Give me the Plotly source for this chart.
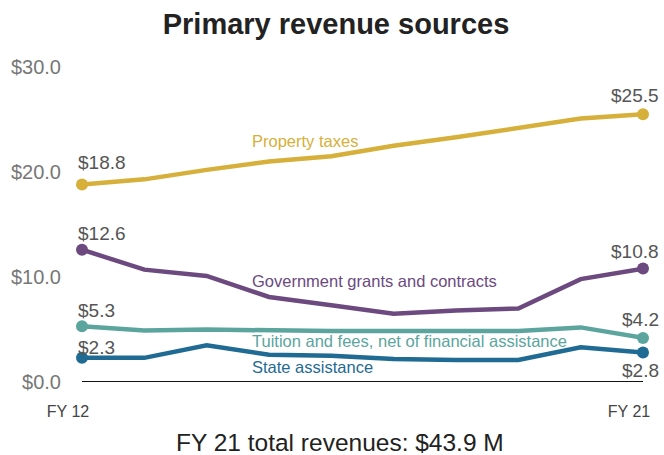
import plotly.graph_objects as go

years = ["FY 12", "FY 13", "FY 14", "FY 15", "FY 16", "FY 17", "FY 18", "FY 19", "FY 20", "FY 21"]
property_taxes = [18.8, 19.3, 20.2, 21.0, 21.5, 22.5, 23.3, 24.2, 25.1, 25.5]
gov_grants = [12.6, 10.7, 10.1, 8.1, 7.3, 6.5, 6.8, 7.0, 9.8, 10.8]
tuition = [5.3, 4.9, 5.0, 4.9, 4.85, 4.85, 4.9, 4.85, 5.2, 4.2]
state = [2.3, 2.3, 3.5, 2.6, 2.5, 2.2, 2.1, 2.1, 3.3, 2.8]

series_names = ["Property taxes", "Government grants and contracts",
                "Tuition and fees, net of financial assistance", "State assistance"]
series_values = [property_taxes, gov_grants, tuition, state]
series_colors = ["#d6b03a", "#6c4a7f", "#5ba59e", "#1f6b93"]
label_y = [23.0, 9.6, 3.9, 1.4]

y_ticks = [0, 10, 20, 30]
y_tick_labels = ["$0.0", "$10.0", "$20.0", "$30.0"]
x_tick_labels = ["FY 12", "FY 21"]

FONT = "Liberation Sans, Arial, sans-serif"
xs = list(range(len(years)))

fig = go.Figure()
for name, vals, col in zip(series_names, series_values, series_colors):
    fig.add_trace(go.Scatter(
        x=xs, y=vals, mode="lines", name=name,
        line=dict(color=col, width=4.5), cliponaxis=False, hoverinfo="skip"))
    fig.add_trace(go.Scatter(
        x=[xs[0], xs[-1]], y=[vals[0], vals[-1]], mode="markers",
        marker=dict(color=col, size=12), cliponaxis=False, hoverinfo="skip"))

# zero line
fig.add_trace(go.Scatter(x=[xs[0], xs[-1]], y=[0, 0], mode="lines",
                         line=dict(color="#111111", width=2), cliponaxis=False,
                         hoverinfo="skip"))

annotations = []
# endpoint value labels
start_shifts = [22, 16, 16, 10]
end_shifts = [19, 17, 18, -18]
for vals, s0, s1 in zip(series_values, start_shifts, end_shifts):
    annotations.append(dict(x=xs[0], y=vals[0], text=f"${vals[0]:.1f}", showarrow=False,
                            xanchor="left", yanchor="middle", xshift=-6, yshift=s0,
                            font=dict(family=FONT, size=19, color="#555555")))
    annotations.append(dict(x=xs[-1], y=vals[-1], text=f"${vals[-1]:.1f}", showarrow=False,
                            xanchor="right", yanchor="middle", xshift=18, yshift=s1,
                            font=dict(family=FONT, size=19, color="#555555")))
# series name labels
for name, ly, col in zip(series_names, label_y, series_colors):
    annotations.append(dict(x=0.2995, xref="paper", y=ly, text=name, showarrow=False,
                            xanchor="left", yanchor="middle",
                            font=dict(family=FONT, size=16.5, color=col)))
# bottom summary
annotations.append(dict(x=(340 - 82) / 561, xref="paper", xanchor="center",
                        y=-(442 - (455 - 73)) / (455 - 67 - 73), yref="paper",
                        yanchor="middle",
                        text="FY 21 total revenues: $43.9 M", showarrow=False,
                        font=dict(family=FONT, size=24.5, color="#222222")))

fig.update_layout(
    width=664, height=455,
    margin=dict(l=82, r=21, t=67, b=73),
    paper_bgcolor="white", plot_bgcolor="white",
    showlegend=False,
    title=dict(text="<b>Primary revenue sources</b>", x=336 / 664, xanchor="center",
               y=1 - 24 / 455, yanchor="middle", yref="container",
               font=dict(family=FONT, size=29, color="#222222")),
    xaxis=dict(range=[xs[0], xs[-1]], tickvals=[xs[0], xs[-1]], ticktext=x_tick_labels,
               showgrid=False, zeroline=False, showline=False, ticks="",
               tickfont=dict(family=FONT, size=16, color="#444444"),
               ticklabelstandoff=18, ticklabelshift=-14),
    yaxis=dict(range=[0, 30], tickvals=y_ticks, ticktext=y_tick_labels,
               showgrid=False, zeroline=False, showline=False, ticks="",
               tickfont=dict(family=FONT, size=20, color="#777777"),
               ticklabelstandoff=20),
    annotations=annotations,
)

fig.write_html("out.html", config={"displayModeBar": False},
               post_script="document.body.style.margin='0';")
